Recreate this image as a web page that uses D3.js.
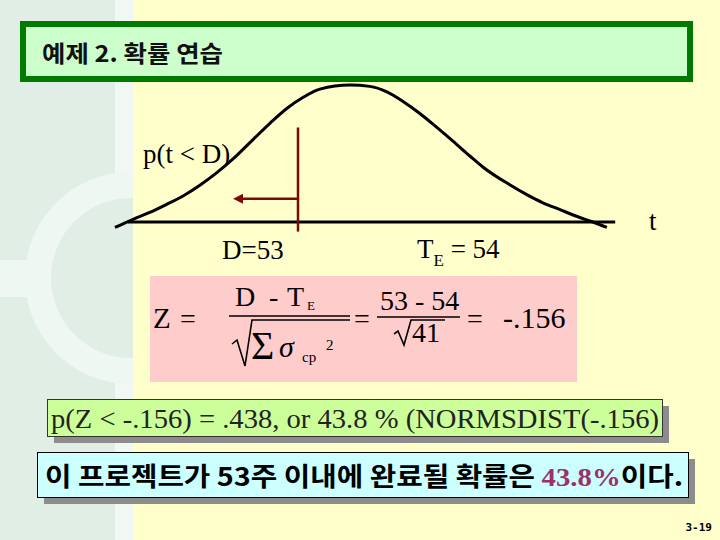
<!DOCTYPE html>
<html>
<head>
<meta charset="utf-8">
<script src="https://cdn.jsdelivr.net/npm/d3@7"></script>
<style>
  html, body { margin: 0; padding: 0; background: #FFFFCC; }
  svg { display: block; }
</style>
</head>
<body>
<script>
// ---- data ----
const curveT = [49.48, 49.83, 50.15, 50.48, 50.79, 51.12, 51.44, 51.75, 52.13, 52.46, 52.79, 53.10, 53.42, 54.00, 54.38, 54.71, 55.02, 55.35, 55.67, 55.98, 56.31, 56.56, 57.08, 57.40, 57.71, 58.04, 58.37, 58.67, 58.94];
const curveDensity = [-0.04, 0.02, 0.07, 0.13, 0.19, 0.27, 0.36, 0.46, 0.60, 0.72, 0.83, 0.91, 0.97, 1.00, 0.99, 0.95, 0.88, 0.79, 0.69, 0.59, 0.48, 0.40, 0.27, 0.20, 0.14, 0.09, 0.04, 0.00, -0.04];
const axisExtent = [49.73, 59.1];
const deadlineD = 53;
const expectedTE = 54;
const deadlineLineDensity = [0.69, -0.07];
const arrowTo = 51.79;
const arrowDensity = 0.17;

const titleText = "예제 2. 확률 연습";
const probLabel = "p(t < D)";
const dLabel = "D=53";
const teLabel = ["T", "E", " = 54"];
const axisLabel = "t";
const resultText = "p(Z < -.156)  = .438, or 43.8 % (NORMSDIST(-.156)";
const conclusionParts = ["이 프로젝트가 53주 이내에 완료될 확률은 ", "43.8%", "이다."];
const pageNumber = "3-19";

// ---- drawing ----
const W = 720, H = 540;
const svg = d3.select("body").append("svg").attr("width", W).attr("height", H);

// background
svg.append("rect").attr("width", W).attr("height", H).attr("fill", "#FFFFCC");
const deco = svg.append("g");
deco.append("defs").append("clipPath").attr("id", "leftclip")
  .append("rect").attr("x", 0).attr("y", 0).attr("width", 133).attr("height", H);
deco.append("rect").attr("x", 0).attr("y", 0).attr("width", 115).attr("height", H).attr("fill", "#E1EEE6");
deco.append("rect").attr("x", 115).attr("y", 0).attr("width", 18).attr("height", H).attr("fill", "#F1F8F4");
const ring = deco.append("g").attr("clip-path", "url(#leftclip)");
ring.append("circle").attr("cx", 131).attr("cy", 278).attr("r", 106).attr("fill", "#EFF7F2");
ring.append("circle").attr("cx", 131).attr("cy", 278).attr("r", 80).attr("fill", "#E1EEE6");
ring.append("rect").attr("x", 0).attr("y", 260).attr("width", 30).attr("height", 37).attr("fill", "#EFF7F2");

// title box
svg.append("rect").attr("x", 23).attr("y", 24).attr("width", 667).attr("height", 55)
  .attr("fill", "#CCFFCC").attr("stroke", "#007A00").attr("stroke-width", 6);
svg.append("text").attr("x", 42).attr("y", 62)
  .attr("font-family", "'Noto Sans CJK KR', sans-serif").attr("font-weight", 700)
  .attr("font-size", 23).attr("fill", "#111")
  .attr("textLength", 181).attr("lengthAdjust", "spacingAndGlyphs")
  .text(titleText);

// scales
const x = d3.scaleLinear().domain([49, 59]).range([90, 610]);
const y = d3.scaleLinear().domain([0, 1]).range([222, 85]);

// axis line
svg.append("line")
  .attr("x1", x(axisExtent[0])).attr("x2", x(axisExtent[1]))
  .attr("y1", y(0)).attr("y2", y(0))
  .attr("stroke", "#000").attr("stroke-width", 3);

// bell curve
const pts = curveT.map((t, i) => [t, curveDensity[i]]);
svg.append("path").datum(pts)
  .attr("d", d3.line().x(d => x(d[0])).y(d => y(d[1])).curve(d3.curveMonotoneX))
  .attr("fill", "none").attr("stroke", "#000").attr("stroke-width", 3);

// deadline line + arrow
svg.append("defs").append("marker").attr("id", "arr")
  .attr("viewBox", "0 0 10 10").attr("refX", 2).attr("refY", 5)
  .attr("markerWidth", 4).attr("markerHeight", 4).attr("orient", "auto-start-reverse")
  .append("path").attr("d", "M0,0 L10,5 L0,10 z").attr("fill", "#7A0A0A");
svg.append("line")
  .attr("x1", x(deadlineD)).attr("x2", x(deadlineD))
  .attr("y1", y(deadlineLineDensity[0])).attr("y2", y(deadlineLineDensity[1]))
  .attr("stroke", "#7A0A0A").attr("stroke-width", 2.5);
svg.append("line")
  .attr("x1", x(deadlineD)).attr("x2", x(arrowTo) + 6)
  .attr("y1", y(arrowDensity)).attr("y2", y(arrowDensity))
  .attr("stroke", "#7A0A0A").attr("stroke-width", 2.5)
  .attr("marker-end", "url(#arr)");

const serif = "'Liberation Serif', 'Times New Roman', serif";
svg.append("text").attr("x", 143).attr("y", 163).attr("font-family", serif)
  .attr("font-size", 27).attr("fill", "#000").text(probLabel);
svg.append("text").attr("x", 222).attr("y", 259).attr("font-family", serif)
  .attr("font-size", 27).attr("fill", "#000").text(dLabel);
const te = svg.append("text").attr("x", 417).attr("y", 258).attr("font-family", serif)
  .attr("font-size", 27).attr("fill", "#000");
te.append("tspan").text(teLabel[0]);
te.append("tspan").attr("font-size", 17).attr("dy", 8).text(teLabel[1]);
te.append("tspan").attr("dy", -8).text(teLabel[2]);
svg.append("text").attr("x", 649).attr("y", 230).attr("font-family", serif)
  .attr("font-size", 27).attr("fill", "#000").text(axisLabel);

// formula box
svg.append("rect").attr("x", 150).attr("y", 276).attr("width", 427).attr("height", 106).attr("fill", "#FFCCCC");
const f = svg.append("g").attr("font-family", serif).attr("fill", "#000");
f.append("text").attr("x", 153).attr("y", 328).attr("font-size", 29).text("Z");
f.append("text").attr("x", 180).attr("y", 328).attr("font-size", 28).text("=");
f.append("text").attr("x", 235).attr("y", 306).attr("font-size", 28).text("D");
f.append("text").attr("x", 269).attr("y", 306).attr("font-size", 28).text("-");
f.append("text").attr("x", 287).attr("y", 306).attr("font-size", 28).text("T");
f.append("text").attr("x", 307).attr("y", 310).attr("font-size", 13).text("E");
f.append("line").attr("x1", 229).attr("x2", 350).attr("y1", 316).attr("y2", 316).attr("stroke", "#000").attr("stroke-width", 1.5);
f.append("path").attr("d", "M232,344 L237,340 L245,366 L252,320 L350,320")
  .attr("fill", "none").attr("stroke", "#000").attr("stroke-width", 1.6);
f.append("text").attr("x", 251).attr("y", 359).attr("font-size", 40).text("Σ");
f.append("text").attr("x", 279).attr("y", 357).attr("font-size", 30).attr("font-style", "italic").text("σ");
f.append("text").attr("x", 302).attr("y", 362).attr("font-size", 15).text("cp");
f.append("text").attr("x", 326).attr("y", 350).attr("font-size", 15).text("2");
f.append("text").attr("x", 354).attr("y", 328).attr("font-size", 28).text("=");
f.append("text").attr("x", 380).attr("y", 310).attr("font-size", 28).text("53 - 54");
f.append("line").attr("x1", 377).attr("x2", 460).attr("y1", 317).attr("y2", 317).attr("stroke", "#000").attr("stroke-width", 1.5);
f.append("path").attr("d", "M394,334 L398,331 L404,345 L411,320 L445,320")
  .attr("fill", "none").attr("stroke", "#000").attr("stroke-width", 1.6);
f.append("text").attr("x", 412).attr("y", 342).attr("font-size", 28).text("41");
f.append("text").attr("x", 467).attr("y", 328).attr("font-size", 28).text("=");
f.append("text").attr("x", 503).attr("y", 328).attr("font-size", 30).text("-.156");

// result box (green) with shadow
svg.append("rect").attr("x", 54).attr("y", 406).attr("width", 615).attr("height", 37).attr("fill", "#8C8C8C");
svg.append("rect").attr("x", 47.5).attr("y", 399.5).attr("width", 615).attr("height", 37)
  .attr("fill", "#CCFF99").attr("stroke", "#333").attr("stroke-width", 1);
svg.append("text").attr("x", 51).attr("y", 428).attr("font-family", serif)
  .attr("font-size", 27).attr("fill", "#222")
  .attr("textLength", 608).attr("lengthAdjust", "spacingAndGlyphs")
  .text(resultText);

// conclusion box (cyan) with shadow
svg.append("rect").attr("x", 44).attr("y", 459).attr("width", 651).attr("height", 45).attr("fill", "#8C8C8C");
svg.append("rect").attr("x", 37.5).attr("y", 452.5).attr("width", 651).attr("height", 45)
  .attr("fill", "#CCFFFF").attr("stroke", "#000").attr("stroke-width", 1);
const c = svg.append("text").attr("x", 45).attr("y", 486)
  .attr("font-family", "'Noto Sans CJK KR', sans-serif").attr("font-weight", 700)
  .attr("font-size", 26).attr("fill", "#000")
  .attr("textLength", 638).attr("lengthAdjust", "spacingAndGlyphs");
c.append("tspan").text(conclusionParts[0]);
c.append("tspan").attr("fill", "#993366").attr("font-family", serif).attr("font-weight", 700).text(conclusionParts[1]);
c.append("tspan").text(conclusionParts[2]);

// page number
svg.append("text").attr("x", 712).attr("y", 531).attr("text-anchor", "end")
  .attr("font-family", "'DejaVu Sans Mono', monospace").attr("font-weight", 700)
  .attr("font-size", 11).attr("fill", "#000").text(pageNumber);
</script>
</body>
</html>
